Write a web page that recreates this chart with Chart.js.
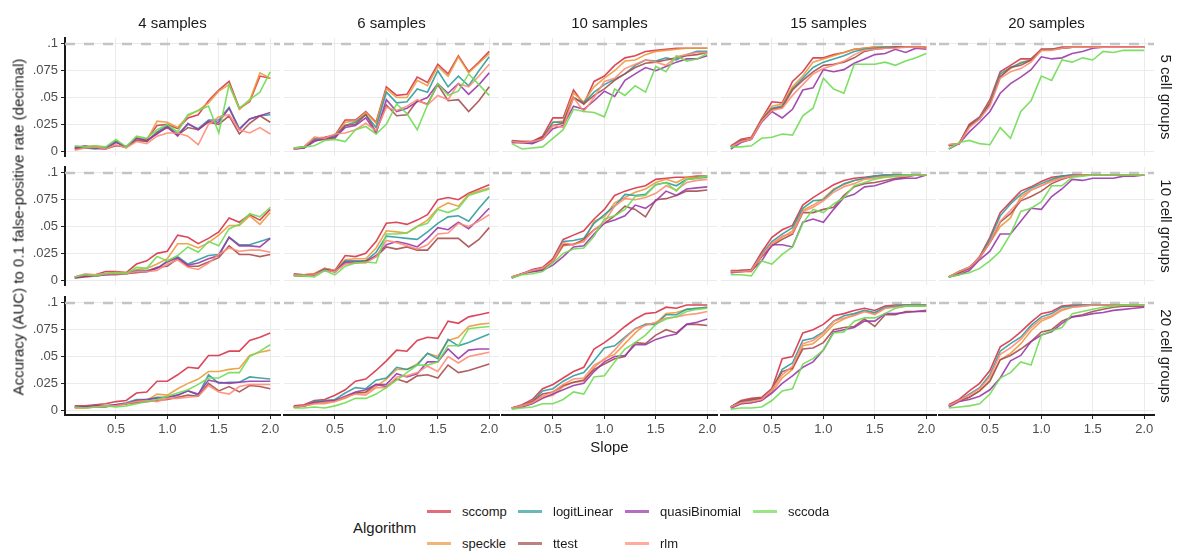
<!DOCTYPE html>
<html>
<head>
<meta charset="utf-8">
<script src="https://cdn.jsdelivr.net/npm/chart.js@4.4.0/dist/chart.umd.min.js"></script>
<style>
    body { margin: 0; background: #fff; font-family: "Liberation Sans", Arial, sans-serif; }
    #wrap { position: relative; width: 1179px; height: 551px; overflow: hidden; }
    #wrap canvas { position: absolute; }
    .txt { position: absolute; white-space: nowrap; color: #1a1a1a; }
    .key { position: absolute; height: 2.5px; width: 24px; }
</style>
</head>
<body>
<div id="wrap"></div>
<script>
const slopes = [0.1, 0.2, 0.3, 0.4, 0.5, 0.6, 0.7, 0.8, 0.9, 1.0, 1.1, 1.2, 1.3, 1.4, 1.5, 1.6, 1.7, 1.8, 1.9, 2.0];
const algorithms = ["sccomp", "speckle", "logitLinear", "ttest", "quasiBinomial", "rlm", "sccoda"];
const sampleLabels = ["4 samples", "6 samples", "10 samples", "15 samples", "20 samples"];
const groupLabels = ["5 cell groups", "10 cell groups", "20 cell groups"];
const yTicks = [0, 0.025, 0.05, 0.075, 0.1];
const yTickLabels = ["0", ".025", ".05", ".075", ".1"];
const xTicks = [0.5, 1.0, 1.5, 2.0];
const xTickLabels = ["0.5", "1.0", "1.5", "2.0"];
const referenceLine = 0.1;

// one row per algorithm, same order as `algorithms`
const auc_4s_5g = [
    [0.003,0.004,0.004,0.003,0.009,0.004,0.012,0.011,0.024,0.025,0.021,0.031,0.034,0.047,0.057,0.065,0.040,0.046,0.070,0.068],
    [0.002,0.004,0.005,0.003,0.010,0.003,0.013,0.010,0.028,0.027,0.022,0.033,0.038,0.045,0.056,0.062,0.039,0.047,0.073,0.068],
    [0.004,0.003,0.002,0.003,0.009,0.004,0.012,0.009,0.018,0.024,0.016,0.025,0.021,0.029,0.029,0.041,0.021,0.030,0.033,0.034],
    [0.002,0.003,0.003,0.002,0.005,0.004,0.010,0.009,0.017,0.022,0.015,0.022,0.020,0.027,0.025,0.033,0.016,0.026,0.033,0.027],
    [0.003,0.005,0.003,0.002,0.008,0.004,0.012,0.010,0.016,0.023,0.014,0.026,0.020,0.028,0.027,0.040,0.020,0.030,0.033,0.036],
    [0.001,0.003,0.004,0.002,0.006,0.003,0.009,0.007,0.014,0.017,0.017,0.014,0.006,0.025,0.032,0.034,0.020,0.017,0.022,0.016],
    [0.005,0.004,0.005,0.004,0.011,0.004,0.014,0.012,0.020,0.025,0.018,0.034,0.038,0.042,0.017,0.062,0.040,0.048,0.055,0.074],
];
const auc_6s_5g = [
    [0.002,0.004,0.012,0.013,0.015,0.029,0.029,0.037,0.027,0.060,0.052,0.053,0.069,0.064,0.081,0.072,0.089,0.074,0.083,0.093],
    [0.002,0.004,0.013,0.012,0.014,0.027,0.028,0.036,0.026,0.058,0.050,0.050,0.066,0.061,0.079,0.070,0.088,0.073,0.082,0.091],
    [0.003,0.004,0.011,0.012,0.014,0.024,0.027,0.034,0.022,0.055,0.045,0.046,0.058,0.055,0.075,0.060,0.070,0.061,0.075,0.088],
    [0.002,0.003,0.010,0.011,0.012,0.024,0.025,0.034,0.018,0.043,0.033,0.034,0.047,0.044,0.062,0.047,0.048,0.037,0.047,0.060],
    [0.002,0.003,0.009,0.012,0.013,0.022,0.024,0.031,0.017,0.048,0.037,0.040,0.046,0.050,0.063,0.054,0.063,0.053,0.062,0.073],
    [0.002,0.004,0.013,0.012,0.016,0.017,0.020,0.026,0.019,0.041,0.038,0.042,0.048,0.043,0.052,0.048,0.063,0.060,0.070,0.081],
    [0.003,0.004,0.005,0.010,0.011,0.009,0.020,0.023,0.016,0.025,0.044,0.035,0.020,0.043,0.063,0.052,0.056,0.072,0.062,0.052],
];
const auc_10s_5g = [
    [0.010,0.009,0.009,0.014,0.031,0.031,0.057,0.044,0.065,0.070,0.080,0.087,0.089,0.093,0.094,0.095,0.096,0.096,0.096,0.096],
    [0.009,0.008,0.008,0.012,0.027,0.028,0.054,0.046,0.060,0.068,0.075,0.084,0.085,0.090,0.093,0.094,0.095,0.096,0.096,0.096],
    [0.009,0.008,0.008,0.012,0.027,0.027,0.050,0.045,0.055,0.062,0.067,0.072,0.080,0.085,0.084,0.087,0.085,0.090,0.093,0.093],
    [0.009,0.009,0.009,0.013,0.024,0.026,0.050,0.044,0.052,0.058,0.066,0.072,0.078,0.082,0.083,0.085,0.087,0.089,0.090,0.092],
    [0.008,0.008,0.007,0.011,0.021,0.024,0.042,0.039,0.047,0.056,0.051,0.066,0.072,0.078,0.075,0.079,0.083,0.086,0.086,0.089],
    [0.009,0.008,0.009,0.011,0.024,0.022,0.050,0.037,0.050,0.065,0.068,0.077,0.081,0.085,0.083,0.080,0.088,0.090,0.092,0.092],
    [0.007,0.002,0.003,0.004,0.012,0.020,0.039,0.037,0.036,0.032,0.058,0.052,0.061,0.055,0.079,0.074,0.089,0.084,0.086,0.091],
];
const auc_15s_5g = [
    [0.005,0.011,0.013,0.030,0.046,0.045,0.065,0.074,0.087,0.087,0.090,0.092,0.095,0.096,0.097,0.097,0.097,0.097,0.097,0.097],
    [0.004,0.010,0.012,0.030,0.042,0.044,0.060,0.070,0.083,0.086,0.089,0.092,0.095,0.096,0.097,0.097,0.097,0.097,0.097,0.097],
    [0.004,0.010,0.011,0.029,0.040,0.042,0.058,0.068,0.078,0.083,0.086,0.089,0.093,0.095,0.096,0.097,0.097,0.097,0.097,0.096],
    [0.004,0.010,0.011,0.029,0.039,0.041,0.057,0.066,0.074,0.080,0.081,0.083,0.087,0.093,0.095,0.096,0.097,0.097,0.097,0.096],
    [0.002,0.008,0.011,0.027,0.037,0.031,0.039,0.057,0.059,0.076,0.074,0.076,0.082,0.086,0.090,0.091,0.095,0.092,0.096,0.095],
    [0.004,0.009,0.011,0.028,0.038,0.040,0.052,0.062,0.072,0.077,0.080,0.084,0.090,0.094,0.095,0.096,0.096,0.097,0.097,0.096],
    [0.004,0.004,0.005,0.012,0.013,0.016,0.015,0.033,0.040,0.068,0.058,0.054,0.081,0.081,0.081,0.083,0.080,0.084,0.087,0.091],
];
const auc_20s_5g = [
    [0.006,0.007,0.025,0.032,0.048,0.074,0.080,0.086,0.086,0.095,0.095,0.097,0.097,0.097,0.097,0.097,0.097,0.097,0.097,0.097],
    [0.006,0.007,0.023,0.030,0.045,0.070,0.077,0.083,0.085,0.095,0.095,0.096,0.097,0.097,0.097,0.097,0.097,0.097,0.097,0.097],
    [0.005,0.007,0.024,0.031,0.045,0.072,0.078,0.082,0.085,0.094,0.095,0.096,0.097,0.097,0.097,0.097,0.097,0.097,0.097,0.097],
    [0.005,0.007,0.024,0.030,0.044,0.069,0.078,0.080,0.085,0.095,0.095,0.096,0.097,0.097,0.097,0.097,0.097,0.097,0.097,0.097],
    [0.002,0.007,0.018,0.027,0.037,0.054,0.063,0.069,0.076,0.088,0.086,0.087,0.091,0.093,0.096,0.097,0.097,0.097,0.097,0.097],
    [0.006,0.007,0.022,0.030,0.042,0.068,0.074,0.077,0.083,0.094,0.094,0.096,0.097,0.097,0.097,0.097,0.097,0.097,0.097,0.097],
    [0.002,0.008,0.010,0.007,0.006,0.022,0.012,0.037,0.047,0.070,0.066,0.085,0.083,0.087,0.085,0.093,0.092,0.094,0.094,0.094],
];
const auc_4s_10g = [
    [0.003,0.005,0.005,0.008,0.008,0.007,0.015,0.018,0.025,0.027,0.042,0.040,0.034,0.039,0.045,0.058,0.054,0.061,0.056,0.066],
    [0.003,0.004,0.005,0.006,0.007,0.007,0.010,0.011,0.015,0.020,0.034,0.034,0.030,0.035,0.042,0.051,0.051,0.060,0.052,0.063],
    [0.003,0.004,0.004,0.006,0.006,0.006,0.009,0.009,0.011,0.018,0.022,0.015,0.019,0.023,0.024,0.040,0.033,0.033,0.036,0.039],
    [0.002,0.003,0.004,0.005,0.005,0.006,0.007,0.008,0.012,0.013,0.020,0.013,0.013,0.017,0.021,0.032,0.024,0.024,0.022,0.024],
    [0.002,0.004,0.004,0.005,0.006,0.006,0.008,0.008,0.011,0.017,0.021,0.014,0.016,0.020,0.023,0.040,0.032,0.032,0.031,0.039],
    [0.003,0.006,0.005,0.006,0.006,0.006,0.008,0.008,0.009,0.015,0.019,0.012,0.010,0.016,0.024,0.030,0.027,0.028,0.028,0.026],
    [0.003,0.005,0.004,0.006,0.007,0.006,0.012,0.011,0.022,0.018,0.023,0.031,0.026,0.036,0.032,0.048,0.052,0.062,0.059,0.068],
];
const auc_6s_10g = [
    [0.006,0.005,0.006,0.011,0.009,0.023,0.022,0.025,0.036,0.053,0.054,0.052,0.056,0.061,0.075,0.077,0.075,0.081,0.085,0.089],
    [0.005,0.005,0.006,0.011,0.009,0.019,0.020,0.020,0.030,0.046,0.045,0.044,0.050,0.056,0.067,0.072,0.069,0.080,0.083,0.086],
    [0.005,0.004,0.005,0.010,0.008,0.018,0.018,0.018,0.026,0.041,0.040,0.039,0.038,0.045,0.053,0.059,0.060,0.055,0.067,0.078],
    [0.004,0.004,0.005,0.009,0.008,0.016,0.016,0.018,0.022,0.031,0.029,0.031,0.028,0.028,0.039,0.039,0.039,0.031,0.038,0.049],
    [0.005,0.004,0.005,0.010,0.008,0.017,0.017,0.017,0.023,0.033,0.036,0.034,0.031,0.039,0.049,0.047,0.054,0.048,0.057,0.067],
    [0.005,0.004,0.005,0.009,0.008,0.015,0.016,0.016,0.022,0.037,0.035,0.032,0.029,0.033,0.043,0.044,0.053,0.050,0.055,0.061],
    [0.004,0.004,0.003,0.009,0.005,0.013,0.016,0.017,0.016,0.043,0.043,0.044,0.050,0.053,0.066,0.063,0.067,0.079,0.082,0.085],
];
const auc_10s_10g = [
    [0.003,0.006,0.010,0.012,0.020,0.038,0.042,0.046,0.057,0.066,0.079,0.083,0.086,0.088,0.094,0.095,0.096,0.096,0.097,0.097],
    [0.003,0.006,0.009,0.011,0.017,0.032,0.034,0.036,0.055,0.059,0.072,0.077,0.082,0.085,0.091,0.094,0.091,0.096,0.096,0.097],
    [0.002,0.006,0.009,0.011,0.018,0.036,0.037,0.039,0.053,0.061,0.069,0.080,0.079,0.080,0.089,0.091,0.088,0.094,0.095,0.096],
    [0.003,0.006,0.008,0.010,0.018,0.033,0.033,0.038,0.047,0.053,0.060,0.069,0.066,0.059,0.075,0.076,0.079,0.083,0.083,0.084],
    [0.002,0.006,0.008,0.009,0.014,0.022,0.031,0.032,0.043,0.053,0.056,0.060,0.070,0.067,0.074,0.083,0.079,0.085,0.086,0.087],
    [0.003,0.006,0.009,0.011,0.018,0.035,0.033,0.036,0.047,0.054,0.069,0.076,0.075,0.077,0.081,0.088,0.084,0.091,0.093,0.094],
    [0.002,0.005,0.006,0.008,0.016,0.025,0.029,0.030,0.041,0.057,0.060,0.066,0.078,0.079,0.089,0.091,0.083,0.094,0.095,0.097],
];
const auc_15s_10g = [
    [0.009,0.009,0.010,0.026,0.040,0.047,0.051,0.070,0.077,0.083,0.089,0.093,0.095,0.096,0.097,0.098,0.098,0.098,0.098,0.098],
    [0.007,0.008,0.008,0.022,0.033,0.040,0.046,0.065,0.070,0.076,0.085,0.089,0.093,0.095,0.096,0.097,0.098,0.098,0.098,0.098],
    [0.008,0.009,0.009,0.024,0.036,0.043,0.049,0.067,0.074,0.075,0.084,0.090,0.093,0.095,0.097,0.098,0.098,0.098,0.098,0.098],
    [0.008,0.009,0.009,0.022,0.032,0.038,0.043,0.063,0.063,0.066,0.068,0.079,0.087,0.090,0.091,0.093,0.095,0.096,0.098,0.098],
    [0.007,0.008,0.009,0.018,0.033,0.033,0.031,0.054,0.057,0.054,0.066,0.077,0.080,0.087,0.088,0.091,0.094,0.095,0.095,0.098],
    [0.008,0.008,0.009,0.023,0.034,0.041,0.044,0.064,0.068,0.074,0.082,0.087,0.090,0.094,0.095,0.096,0.097,0.097,0.098,0.098],
    [0.005,0.005,0.004,0.018,0.015,0.024,0.031,0.053,0.066,0.063,0.071,0.077,0.088,0.091,0.094,0.096,0.097,0.098,0.098,0.098],
];
const auc_20s_10g = [
    [0.003,0.007,0.011,0.022,0.040,0.063,0.073,0.083,0.087,0.092,0.096,0.097,0.098,0.098,0.098,0.098,0.098,0.098,0.098,0.098],
    [0.003,0.008,0.012,0.021,0.035,0.050,0.058,0.078,0.084,0.088,0.093,0.096,0.097,0.098,0.098,0.098,0.098,0.098,0.098,0.098],
    [0.003,0.008,0.012,0.021,0.038,0.060,0.071,0.080,0.086,0.090,0.094,0.097,0.098,0.098,0.098,0.098,0.098,0.098,0.098,0.098],
    [0.003,0.007,0.011,0.021,0.035,0.054,0.062,0.074,0.078,0.083,0.090,0.094,0.097,0.098,0.098,0.098,0.098,0.098,0.098,0.098],
    [0.003,0.005,0.009,0.019,0.027,0.043,0.043,0.055,0.067,0.066,0.078,0.085,0.094,0.093,0.095,0.095,0.095,0.097,0.097,0.098],
    [0.003,0.008,0.012,0.021,0.035,0.055,0.065,0.075,0.084,0.088,0.092,0.095,0.097,0.098,0.098,0.098,0.098,0.098,0.098,0.098],
    [0.003,0.005,0.007,0.011,0.018,0.027,0.043,0.064,0.067,0.073,0.088,0.088,0.096,0.097,0.098,0.098,0.098,0.098,0.098,0.098],
];
const auc_4s_20g = [
    [0.004,0.004,0.005,0.006,0.008,0.009,0.016,0.017,0.027,0.027,0.033,0.040,0.039,0.051,0.051,0.055,0.055,0.065,0.068,0.072],
    [0.002,0.002,0.003,0.004,0.004,0.006,0.008,0.009,0.015,0.014,0.020,0.025,0.029,0.036,0.036,0.038,0.039,0.051,0.054,0.056],
    [0.003,0.003,0.004,0.004,0.005,0.007,0.010,0.010,0.012,0.012,0.014,0.018,0.014,0.033,0.025,0.026,0.026,0.031,0.030,0.029],
    [0.003,0.003,0.003,0.003,0.005,0.006,0.007,0.008,0.009,0.010,0.012,0.014,0.013,0.025,0.018,0.022,0.017,0.023,0.022,0.020],
    [0.003,0.003,0.004,0.004,0.005,0.006,0.009,0.010,0.011,0.012,0.014,0.018,0.015,0.028,0.026,0.025,0.026,0.027,0.027,0.027],
    [0.002,0.002,0.003,0.004,0.004,0.006,0.008,0.009,0.008,0.011,0.011,0.012,0.013,0.023,0.017,0.015,0.022,0.024,0.024,0.024],
    [0.003,0.002,0.003,0.004,0.003,0.004,0.006,0.008,0.010,0.013,0.016,0.019,0.024,0.030,0.030,0.035,0.035,0.050,0.055,0.061],
];
const auc_6s_20g = [
    [0.004,0.005,0.009,0.010,0.014,0.019,0.027,0.029,0.037,0.046,0.056,0.055,0.065,0.068,0.067,0.083,0.081,0.087,0.089,0.091],
    [0.003,0.004,0.006,0.006,0.008,0.011,0.016,0.016,0.022,0.029,0.038,0.038,0.043,0.053,0.050,0.065,0.068,0.078,0.080,0.081],
    [0.003,0.004,0.008,0.009,0.010,0.016,0.021,0.020,0.028,0.030,0.040,0.038,0.042,0.053,0.048,0.066,0.060,0.063,0.067,0.071],
    [0.003,0.004,0.007,0.008,0.009,0.012,0.016,0.017,0.024,0.022,0.029,0.026,0.032,0.033,0.030,0.042,0.035,0.037,0.040,0.043],
    [0.003,0.004,0.007,0.008,0.009,0.013,0.017,0.019,0.024,0.024,0.034,0.031,0.034,0.045,0.045,0.057,0.048,0.056,0.057,0.057],
    [0.003,0.004,0.006,0.007,0.008,0.012,0.015,0.014,0.021,0.021,0.031,0.032,0.035,0.041,0.036,0.050,0.044,0.050,0.052,0.054],
    [0.002,0.002,0.003,0.002,0.004,0.007,0.011,0.011,0.015,0.021,0.028,0.035,0.042,0.042,0.045,0.060,0.060,0.076,0.077,0.078],
];
const auc_10s_20g = [
    [0.002,0.005,0.010,0.020,0.024,0.030,0.036,0.040,0.057,0.063,0.070,0.078,0.085,0.090,0.091,0.096,0.095,0.098,0.098,0.098],
    [0.002,0.004,0.007,0.012,0.014,0.022,0.026,0.027,0.040,0.048,0.052,0.062,0.072,0.080,0.081,0.090,0.091,0.094,0.095,0.096],
    [0.002,0.004,0.008,0.018,0.020,0.027,0.032,0.035,0.046,0.058,0.060,0.068,0.076,0.080,0.080,0.089,0.089,0.094,0.095,0.096],
    [0.002,0.004,0.008,0.015,0.017,0.023,0.026,0.028,0.038,0.043,0.048,0.050,0.063,0.062,0.070,0.075,0.072,0.080,0.080,0.079],
    [0.002,0.003,0.006,0.011,0.015,0.019,0.023,0.025,0.036,0.045,0.050,0.051,0.061,0.061,0.066,0.069,0.071,0.080,0.082,0.085],
    [0.002,0.004,0.007,0.013,0.017,0.024,0.029,0.030,0.042,0.047,0.056,0.067,0.076,0.079,0.082,0.086,0.087,0.089,0.090,0.092],
    [0.001,0.002,0.003,0.006,0.006,0.010,0.017,0.015,0.031,0.032,0.045,0.057,0.063,0.070,0.080,0.085,0.087,0.092,0.094,0.095],
];
const auc_15s_20g = [
    [0.003,0.009,0.011,0.012,0.020,0.048,0.050,0.072,0.075,0.080,0.088,0.090,0.093,0.095,0.093,0.097,0.098,0.098,0.098,0.098],
    [0.002,0.006,0.007,0.009,0.017,0.030,0.038,0.060,0.062,0.070,0.080,0.085,0.089,0.092,0.090,0.095,0.097,0.097,0.098,0.098],
    [0.003,0.008,0.009,0.011,0.019,0.038,0.044,0.065,0.067,0.073,0.083,0.088,0.090,0.093,0.091,0.096,0.097,0.098,0.098,0.098],
    [0.003,0.008,0.010,0.011,0.020,0.036,0.039,0.057,0.058,0.063,0.075,0.077,0.078,0.085,0.078,0.089,0.089,0.092,0.092,0.092],
    [0.002,0.006,0.007,0.009,0.016,0.025,0.032,0.040,0.045,0.056,0.073,0.075,0.077,0.083,0.083,0.090,0.090,0.091,0.092,0.093],
    [0.003,0.007,0.008,0.010,0.019,0.033,0.041,0.062,0.065,0.072,0.083,0.086,0.088,0.092,0.089,0.095,0.096,0.097,0.097,0.097],
    [0.001,0.002,0.002,0.003,0.009,0.018,0.020,0.043,0.048,0.056,0.072,0.073,0.083,0.086,0.086,0.090,0.095,0.097,0.097,0.097],
];
const auc_20s_20g = [
    [0.005,0.010,0.018,0.025,0.037,0.059,0.065,0.073,0.082,0.090,0.092,0.097,0.098,0.098,0.098,0.098,0.098,0.098,0.098,0.098],
    [0.004,0.008,0.012,0.018,0.028,0.047,0.053,0.062,0.074,0.083,0.087,0.093,0.096,0.097,0.098,0.098,0.098,0.098,0.098,0.098],
    [0.004,0.009,0.015,0.021,0.033,0.055,0.062,0.068,0.079,0.087,0.090,0.096,0.097,0.098,0.098,0.098,0.098,0.098,0.098,0.098],
    [0.004,0.009,0.012,0.018,0.027,0.047,0.051,0.057,0.064,0.073,0.075,0.083,0.087,0.089,0.092,0.094,0.096,0.097,0.097,0.097],
    [0.003,0.008,0.010,0.013,0.019,0.030,0.046,0.051,0.064,0.070,0.073,0.081,0.087,0.088,0.090,0.091,0.093,0.094,0.095,0.096],
    [0.004,0.009,0.014,0.020,0.031,0.052,0.058,0.066,0.077,0.085,0.088,0.094,0.096,0.097,0.098,0.098,0.098,0.098,0.098,0.098],
    [0.002,0.003,0.004,0.006,0.015,0.030,0.035,0.045,0.042,0.070,0.074,0.077,0.090,0.092,0.094,0.096,0.097,0.098,0.098,0.098],
];

const panelRows = [
    [auc_4s_5g, auc_6s_5g, auc_10s_5g, auc_15s_5g, auc_20s_5g],
    [auc_4s_10g, auc_6s_10g, auc_10s_10g, auc_15s_10g, auc_20s_10g],
    [auc_4s_20g, auc_6s_20g, auc_10s_20g, auc_15s_20g, auc_20s_20g],
];

const COLORS = {
    sccomp: "rgba(214, 52, 72, 0.9)",
    speckle: "rgba(236, 154, 62, 0.9)",
    logitLinear: "rgba(48, 156, 156, 0.9)",
    ttest: "rgba(166, 78, 78, 0.9)",
    quasiBinomial: "rgba(153, 56, 170, 0.9)",
    rlm: "rgba(255, 140, 118, 0.9)",
    sccoda: "rgba(112, 220, 84, 0.9)",
};

const PANEL_LEFT = [65, 284, 502, 721, 939];
const PANEL_TOP = [38, 167, 297];
const PANEL_W = 215;
const PANEL_H = 118;
const PAD = 14;
const Y_AXIS_W = 50;
const X_AXIS_H = 26;
const FONT = "'Liberation Sans', Arial, sans-serif";

const wrap = document.getElementById("wrap");

const referenceLinePlugin = {
    id: "referenceLine",
    beforeDatasetsDraw(chart) {
        const { ctx, chartArea, scales } = chart;
        const y = scales.y.getPixelForValue(referenceLine);
        ctx.save();
        ctx.strokeStyle = "#c4c4c4";
        ctx.lineWidth = 2.5;
        ctx.setLineDash([10, 9]);
        ctx.beginPath();
        ctx.moveTo(chartArea.left, y);
        ctx.lineTo(chartArea.right, y);
        ctx.stroke();
        ctx.restore();
    },
};

function addText(text, x, y, size, transform) {
    const el = document.createElement("div");
    el.className = "txt";
    el.textContent = text;
    el.style.left = `${x}px`;
    el.style.top = `${y}px`;
    el.style.fontSize = `${size}px`;
    el.style.transform = transform || "translate(-50%, -50%)";
    wrap.appendChild(el);
    return el;
}

function makePanel(row, col) {
    const isLeft = col === 0;
    const isBottom = row === panelRows.length - 1;
    const yW = isLeft ? Y_AXIS_W : 0;
    const xH = isBottom ? X_AXIS_H : 0;
    const width = PAD + yW + PANEL_W + PAD;
    const height = PAD + PANEL_H + xH + PAD;

    const canvas = document.createElement("canvas");
    canvas.width = width;
    canvas.height = height;
    canvas.style.width = `${width}px`;
    canvas.style.height = `${height}px`;
    canvas.style.left = `${PANEL_LEFT[col] - PAD - yW}px`;
    canvas.style.top = `${PANEL_TOP[row] - PAD}px`;
    wrap.appendChild(canvas);

    const values = panelRows[row][col];
    // reversed so sccoda ends up drawn last, like ggplot
    const datasets = algorithms.map((name, i) => ({
        label: name,
        data: slopes.map((s, j) => ({ x: s, y: values[i][j] })),
        borderColor: COLORS[name],
        borderWidth: 1.6,
        pointRadius: 0,
        tension: 0,
        fill: false,
    })).reverse();

    return new Chart(canvas, {
        type: "line",
        data: { datasets },
        plugins: [referenceLinePlugin],
        options: {
            responsive: false,
            animation: false,
            events: [],
            layout: { padding: PAD },
            plugins: {
                legend: { display: false },
                tooltip: { enabled: false },
            },
            scales: {
                x: {
                    type: "linear",
                    min: 0.005,
                    max: 2.095,
                    afterBuildTicks: (axis) => { axis.ticks = xTicks.map((v) => ({ value: v })); },
                    afterFit: (axis) => { axis.height = xH; },
                    ticks: {
                        display: isBottom,
                        autoSkip: false,
                        maxRotation: 0,
                        padding: 3,
                        color: "#4d4d4d",
                        font: { family: FONT, size: 13 },
                        callback: (v, i) => xTickLabels[i],
                    },
                    grid: {
                        color: "#ebebeb",
                        lineWidth: 1,
                        drawTicks: isBottom,
                        tickLength: 4,
                        tickColor: "#222",
                        tickWidth: 1,
                    },
                    border: { display: isBottom, color: "#1a1a1a", width: 2 },
                },
                y: {
                    min: -0.0045,
                    max: 0.1055,
                    afterBuildTicks: (axis) => { axis.ticks = yTicks.map((v) => ({ value: v })); },
                    afterFit: (axis) => { axis.width = yW; },
                    ticks: {
                        display: isLeft,
                        autoSkip: false,
                        padding: 3,
                        color: "#4d4d4d",
                        font: { family: FONT, size: 13 },
                        callback: (v, i) => yTickLabels[i],
                    },
                    grid: {
                        color: "#ebebeb",
                        lineWidth: 1,
                        drawTicks: isLeft,
                        tickLength: 4,
                        tickColor: "#222",
                        tickWidth: 1,
                    },
                    border: { display: isLeft, color: "#1a1a1a", width: 2 },
                },
            },
        },
    });
}

panelRows.forEach((cols, r) => cols.forEach((_, c) => makePanel(r, c)));

// facet strips
sampleLabels.forEach((label, c) => addText(label, PANEL_LEFT[c] + PANEL_W / 2, 22, 15));
groupLabels.forEach((label, r) => addText(label, 1166, PANEL_TOP[r] + PANEL_H / 2, 15, "translate(-50%, -50%) rotate(90deg)"));

// axis titles
const plotTop = PANEL_TOP[0];
const plotBottom = PANEL_TOP[PANEL_TOP.length - 1] + PANEL_H;
addText("Accuracy (AUC) to 0.1 false-positive rate (decimal)", 18, (plotTop + plotBottom) / 2, 15, "translate(-50%, -50%) rotate(-90deg)");
addText("Slope", (PANEL_LEFT[0] + PANEL_LEFT[4] + PANEL_W) / 2, 446, 15);

// legend, filled column by column like ggplot
const legendKeyX = [427, 518, 625, 753];
const legendRowY = [511, 543];
addText("Algorithm", 353, 527, 15, "translate(0, -50%)");
algorithms.forEach((name, i) => {
    const col = Math.floor(i / 2);
    const row = i % 2;
    const key = document.createElement("div");
    key.className = "key";
    key.style.left = `${legendKeyX[col]}px`;
    key.style.top = `${legendRowY[row] - 1}px`;
    key.style.background = COLORS[name];
    key.style.opacity = "0.8";
    wrap.appendChild(key);
    addText(name, legendKeyX[col] + 35, legendRowY[row], 13, "translate(0, -50%)");
});
</script>
</body>
</html>
